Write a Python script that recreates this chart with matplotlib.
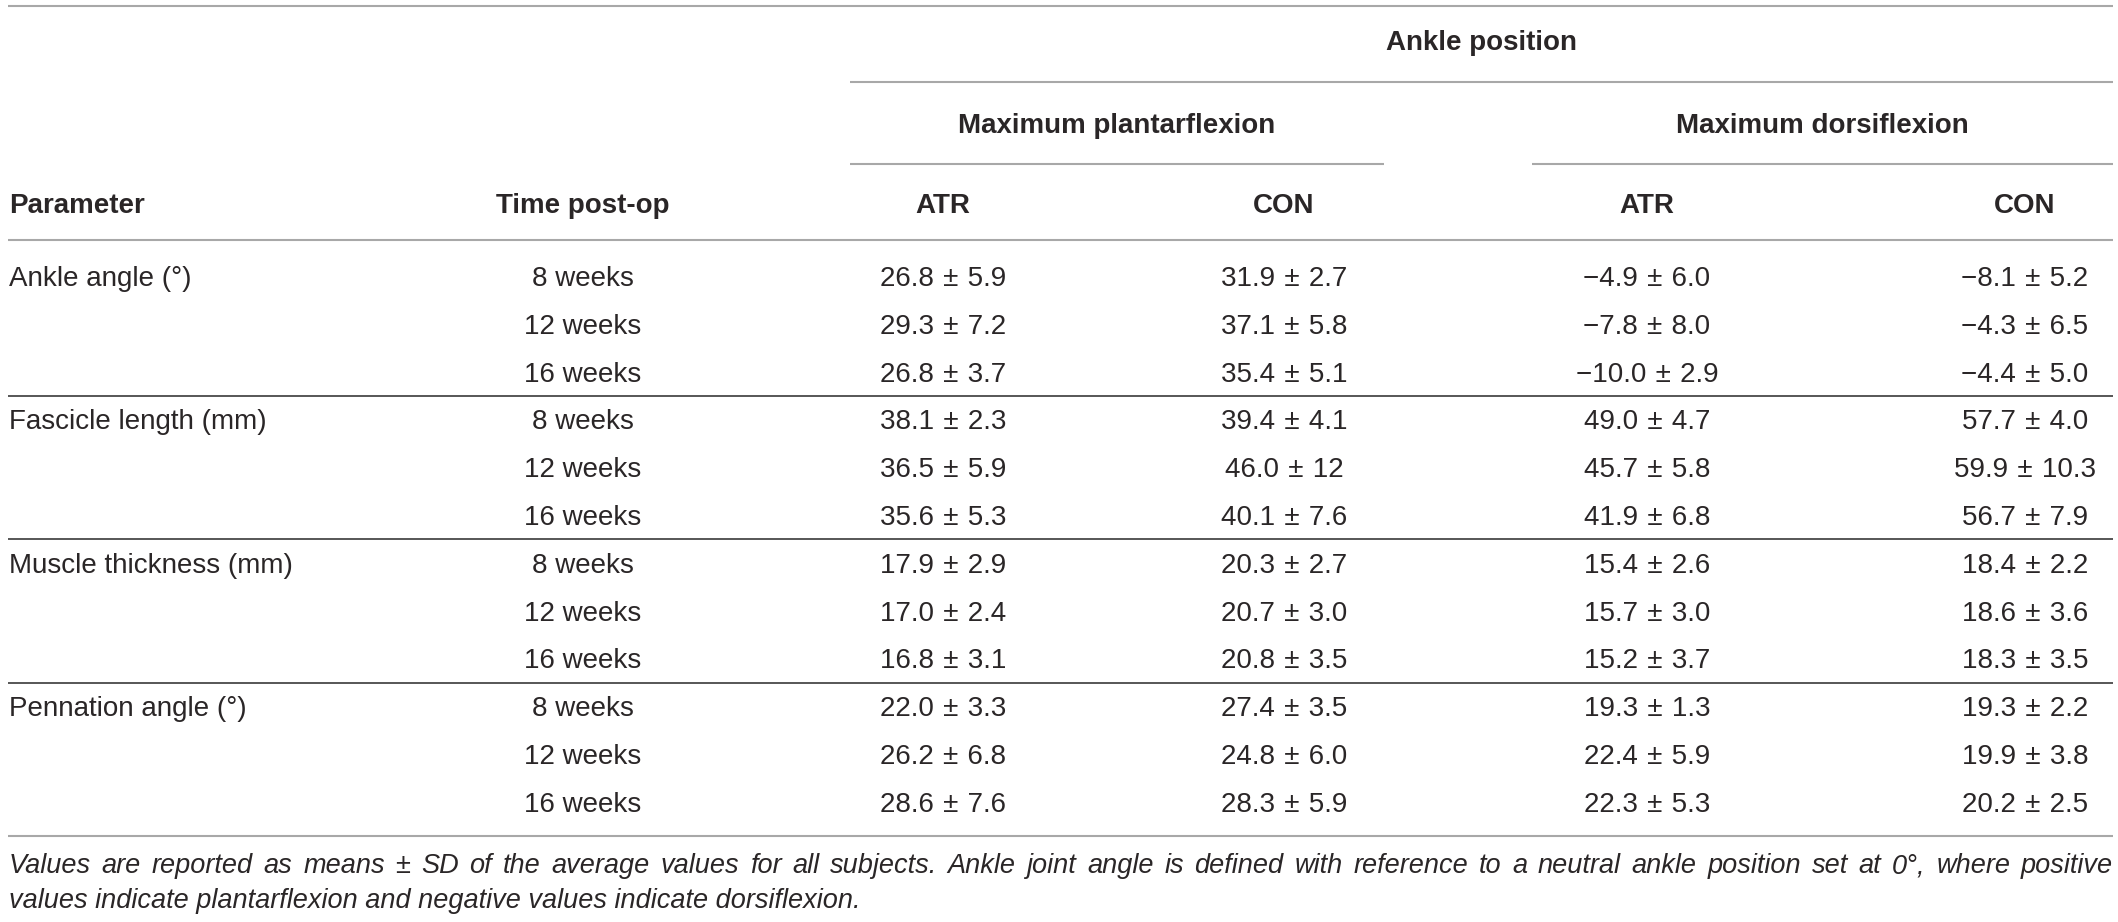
import matplotlib
matplotlib.use("Agg")
import matplotlib.pyplot as plt

# table content
parameters = ["Ankle angle (°)", "Fascicle length (mm)", "Muscle thickness (mm)", "Pennation angle (°)"]
times = ["8 weeks", "12 weeks", "16 weeks"]
col_labels = ["ATR", "CON", "ATR", "CON"]
group_labels = ["Maximum plantarflexion", "Maximum dorsiflexion"]

plantar_atr = ["26.8 ± 5.9", "29.3 ± 7.2", "26.8 ± 3.7",
               "38.1 ± 2.3", "36.5 ± 5.9", "35.6 ± 5.3",
               "17.9 ± 2.9", "17.0 ± 2.4", "16.8 ± 3.1",
               "22.0 ± 3.3", "26.2 ± 6.8", "28.6 ± 7.6"]
plantar_con = ["31.9 ± 2.7", "37.1 ± 5.8", "35.4 ± 5.1",
               "39.4 ± 4.1", "46.0 ± 12", "40.1 ± 7.6",
               "20.3 ± 2.7", "20.7 ± 3.0", "20.8 ± 3.5",
               "27.4 ± 3.5", "24.8 ± 6.0", "28.3 ± 5.9"]
dorsi_atr = ["−4.9 ± 6.0", "−7.8 ± 8.0", "−10.0 ± 2.9",
             "49.0 ± 4.7", "45.7 ± 5.8", "41.9 ± 6.8",
             "15.4 ± 2.6", "15.7 ± 3.0", "15.2 ± 3.7",
             "19.3 ± 1.3", "22.4 ± 5.9", "22.3 ± 5.3"]
dorsi_con = ["−8.1 ± 5.2", "−4.3 ± 6.5", "−4.4 ± 5.0",
             "57.7 ± 4.0", "59.9 ± 10.3", "56.7 ± 7.9",
             "18.4 ± 2.2", "18.6 ± 3.6", "18.3 ± 3.5",
             "19.3 ± 2.2", "19.9 ± 3.8", "20.2 ± 2.5"]

footnote = ["Values are reported as means ± SD of the average values for all subjects. "
            "Ankle joint angle is defined with reference to a neutral ankle position set at 0°, where positive",
            "values indicate plantarflexion and negative values indicate dorsiflexion."]

W, H = 2118, 922
txt = "#2a2627"
light = "#a8a8a8"
dark = "#3a3a3a"
fs = 20
plt.rcParams["font.family"] = ["Liberation Sans", "DejaVu Sans"]

fig = plt.figure(figsize=(W / 100, H / 100), dpi=100)
ax = fig.add_axes([0, 0, 1, 1])
ax.set_xlim(0, W)
ax.set_ylim(H, 0)
ax.axis("off")

left, right = 8, 2113
col_x = [943, 1284, 1647, 2025]
time_x = 583
row0, dy = 286, 47.8

def hline(y, x0, x1, c, lw):
    ax.plot([x0, x1], [y, y], color=c, lw=lw, solid_capstyle="butt")

# header
hline(6, left, right, light, 1.5)
ax.text(1481, 50, "Ankle position", ha="center", va="baseline", fontsize=fs, fontweight="bold", color=txt)
hline(82, 850, right, light, 1.5)
for cx, lab in zip([1117, 1822], group_labels):
    ax.text(cx, 133, lab, ha="center", va="baseline", fontsize=fs, fontweight="bold", color=txt)
hline(164, 850, 1384, light, 1.5)
hline(164, 1532, right, light, 1.5)
ax.text(left + 1, 213, "Parameter", ha="left", va="baseline", fontsize=fs, fontweight="bold", color=txt)
ax.text(time_x, 213, "Time post-op", ha="center", va="baseline", fontsize=fs, fontweight="bold", color=txt)
for cx, lab in zip(col_x, col_labels):
    ax.text(cx, 213, lab, ha="center", va="baseline", fontsize=fs, fontweight="bold", color=txt)
hline(240, left, right, light, 1.5)

# body
columns = [plantar_atr, plantar_con, dorsi_atr, dorsi_con]
for g, par in enumerate(parameters):
    for t, tm in enumerate(times):
        r = g * 3 + t
        y = row0 + r * dy
        if t == 0:
            ax.text(left + 1, y, par, ha="left", va="baseline", fontsize=fs, color=txt)
        ax.text(time_x, y, tm, ha="center", va="baseline", fontsize=fs, color=txt)
        for cx, col in zip(col_x, columns):
            cell = col[r].replace(" ± ", "\u2004±\u2004")
            ax.text(cx, y, cell, ha="center", va="baseline", fontsize=fs, color=txt)
    if g < len(parameters) - 1:
        yl = row0 + (g * 3 + 2.5) * dy - 9.5
        hline(yl, left, right, dark, 1.2)
hline(836, left, right, light, 1.5)

# footnote, first line justified across the table width
fig.canvas.draw()
rend = fig.canvas.get_renderer()
words = footnote[0].split(" ")
objs = [ax.text(0, 873, w, ha="left", va="baseline", fontsize=fs - 0.5, style="italic", color=txt)
        for w in words]
widths = [o.get_window_extent(rend).width for o in objs]
gap = (right - left - 1 - sum(widths)) / (len(words) - 1)
x = left + 1
for o, w in zip(objs, widths):
    o.set_x(x)
    x += w + gap
ax.text(left + 1, 908, footnote[1], ha="left", va="baseline", fontsize=fs - 0.5, style="italic", color=txt)

fig.savefig("out.png", dpi=100)
